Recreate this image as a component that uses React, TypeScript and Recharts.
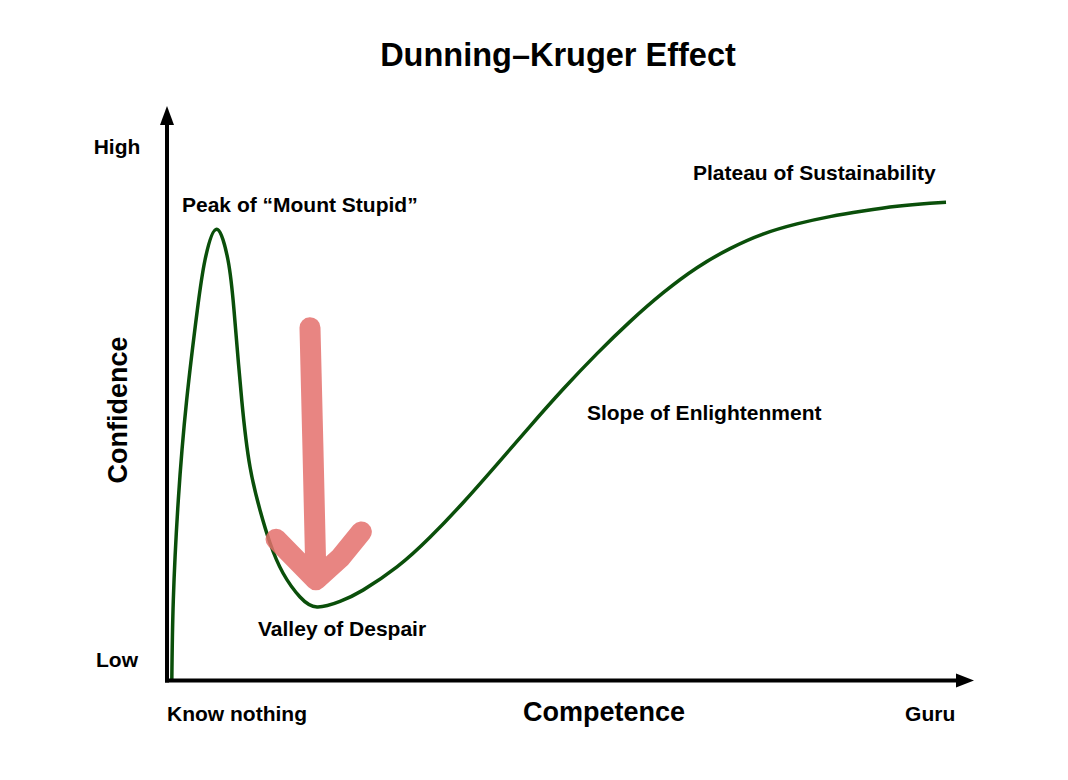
import React from 'react';
import { LineChart, Line, XAxis, YAxis, ReferenceDot } from 'recharts';

// Dunning–Kruger curve (competence 0–100, confidence 0–100)
const competence = [0.61, 0.8, 1.43, 2.49, 3.84, 4.81, 6.29, 7.72, 8.48, 9.46, 10.51, 11.77, 13.04, 14.68, 16.84, 18.99, 21.9, 24.81, 29.11, 33.29, 37.47, 41.77, 45.95, 50.13, 54.43, 58.61, 62.78, 67.09, 71.27, 75.44, 79.75, 83.92, 88.1, 92.41, 96.58, 98.61];
const confidence = [0.0, 14.47, 32.43, 50.4, 66.58, 75.56, 81.1, 75.56, 66.58, 50.4, 38.36, 30.64, 24.71, 19.32, 15.0, 13.21, 14.2, 16.24, 20.4, 25.73, 31.95, 38.85, 45.68, 52.33, 58.74, 64.49, 69.65, 74.18, 77.61, 80.22, 82.05, 83.36, 84.37, 85.23, 85.77, 85.95];

// hand-drawn red arrow (right wing -> tip -> left wing -> tip -> shaft top)
const arrowX = [24.6, 21.9, 18.86, 13.8, 18.86, 18.48, 18.1];
const arrowY = [26.7, 22.0, 18.1, 25.4, 18.1, 41.4, 63.4];

const xTickValues = [0, 96.6];
const xTickLabels = ['Know nothing', 'Guru'];
const yTickValues = [3.7, 95.9];
const yTickLabels = ['Low', 'High'];

const noteLabels = ['Peak of \u201cMount Stupid\u201d', 'Plateau of Sustainability', 'Slope of Enlightenment', 'Valley of Despair'];
const noteX = [1.9, 66.58, 53.16, 11.52];
const noteY = [85.6, 91.2, 48.1, 9.3];

const curveData = competence.map((x, i) => ({ x, y: confidence[i] }));
const arrowData = arrowX.map((x, i) => ({ x, y: arrowY[i] }));

const FONT = "'Liberation Sans', Arial, sans-serif";
const GREEN = '#0a4f0a';

const XTick = (p: any) => {
  const idx = xTickValues.indexOf(p.payload.value);
  return (
    <text x={p.x} y={p.y + 33} textAnchor={idx === 0 ? 'start' : 'middle'} dominantBaseline="central"
      fontFamily={FONT} fontWeight="bold" fontSize={21} fill="#000">
      {xTickLabels[idx]}
    </text>
  );
};

const YTick = (p: any) => {
  const idx = yTickValues.indexOf(p.payload.value);
  return (
    <text x={p.x - 50} y={p.y} textAnchor="middle" dominantBaseline="central"
      fontFamily={FONT} fontWeight="bold" fontSize={21} fill="#000">
      {yTickLabels[idx]}
    </text>
  );
};

export default function App() {
  return (
    <div style={{ position: 'absolute', left: 0, top: 0, width: 1068, height: 780, background: '#fff' }}>
      <div style={{ position: 'absolute', left: 0, top: 35, width: 1116, textAlign: 'center', lineHeight: '40px', fontFamily: FONT, fontWeight: 'bold', fontSize: 32.5, color: '#000' }}>
        Dunning–Kruger Effect
      </div>
      <LineChart width={1068} height={780} margin={{ top: 124, right: 111, bottom: 59.5, left: 67 }}>
        <XAxis type="number" dataKey="x" domain={[0, 100]} ticks={xTickValues} interval={0}
          tickLine={false} tickSize={0} tickMargin={0} height={40}
          axisLine={{ stroke: '#000', strokeWidth: 4, strokeLinecap: 'square' }}
          tick={<XTick />}
          label={(props: any) => {
            const vb = props.viewBox || { x: 167, y: 680.5 };
            return (
              <text x={vb.x + 437} y={vb.y + 31.5} textAnchor="middle" dominantBaseline="central"
                fontFamily={FONT} fontWeight="bold" fontSize={27} fill="#000">Competence</text>
            );
          }}
        />
        <YAxis type="number" dataKey="y" domain={[0, 100]} ticks={yTickValues} interval={0}
          tickLine={false} tickSize={0} tickMargin={0} width={100}
          axisLine={{ stroke: '#000', strokeWidth: 4, strokeLinecap: 'square' }}
          tick={<YTick />}
          label={() => {
            const cx = 118;
            const cy = 410;
            return (
              <text x={cx} y={cy} textAnchor="middle" dominantBaseline="central" transform={`rotate(-90 ${cx} ${cy})`}
                fontFamily={FONT} fontWeight="bold" fontSize={27} fill="#000">Confidence</text>
            );
          }}
        />
        <ReferenceDot x={100} y={0} ifOverflow="visible" isFront
          shape={(p: any) => (
            <polygon points={`${p.cx - 1},${p.cy - 7} ${p.cx + 17},${p.cy} ${p.cx - 1},${p.cy + 7}`} fill="#000" />
          )}
        />
        <ReferenceDot x={0} y={100} ifOverflow="visible" isFront
          shape={(p: any) => (
            <polygon points={`${p.cx - 7},${p.cy + 1} ${p.cx},${p.cy - 18} ${p.cx + 7},${p.cy + 1}`} fill="#000" />
          )}
        />
        <Line data={curveData} dataKey="y" type="natural" stroke={GREEN} strokeWidth={3.5}
          dot={false} activeDot={false} isAnimationActive={false} />
        <Line data={arrowData} dataKey="y" type="linear" stroke="#e4706c" strokeOpacity={0.85} strokeWidth={21}
          strokeLinecap="round" strokeLinejoin="round" dot={false} activeDot={false} isAnimationActive={false} />
        {noteLabels.map((t, i) => (
          <ReferenceDot key={t} x={noteX[i]} y={noteY[i]} ifOverflow="visible" isFront
            shape={(p: any) => (
              <text x={p.cx} y={p.cy} textAnchor="start" dominantBaseline="central"
                fontFamily={FONT} fontWeight="bold" fontSize={21} fill="#000">{t}</text>
            )}
          />
        ))}
      </LineChart>
    </div>
  );
}
